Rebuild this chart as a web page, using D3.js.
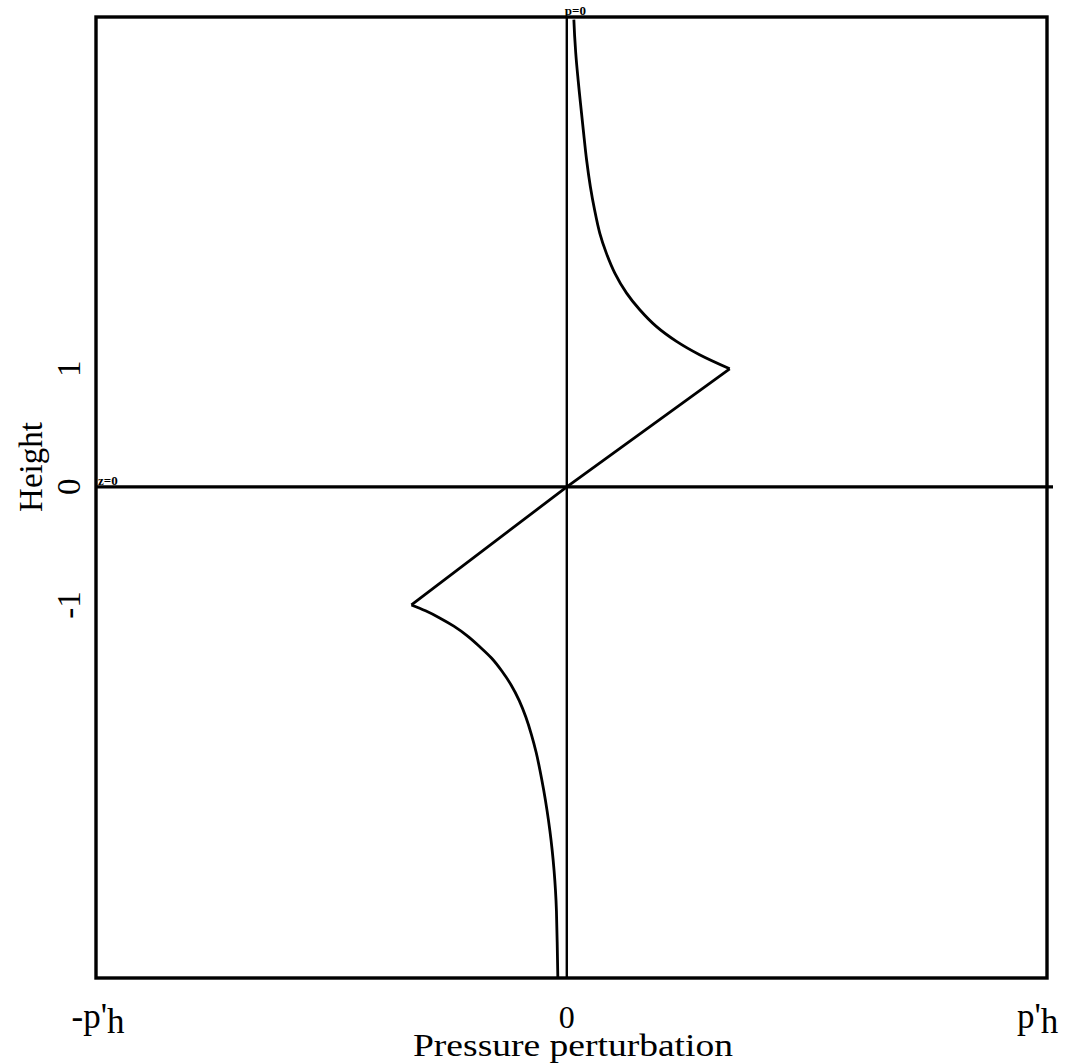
<!DOCTYPE html>
<html>
<head>
<meta charset="utf-8">
<script src="https://cdn.jsdelivr.net/npm/d3@7/dist/d3.min.js"></script>
<style>
  html, body { margin: 0; padding: 0; background: #fff; }
  svg { display: block; }
  text { font-family: "Liberation Serif", "Times New Roman", serif; fill: #000; }
</style>
</head>
<body>
<svg id="chart" width="1071" height="1063"></svg>
<script>
// Vertical profile of the pressure perturbation p' (in units of p'h) versus height z.
// Upper branch (z >= 1), linear core (-1 <= z <= 1), lower branch (z <= -1).
const upperHeight   = [1.000, 1.119, 1.232, 1.359, 1.500, 1.641, 1.811, 1.980, 2.150, 2.347,
                       2.545, 2.771, 3.025, 3.252, 3.449, 3.675, 3.958];
const upperPressure = [0.346, 0.282, 0.233, 0.190, 0.155, 0.127, 0.102, 0.084, 0.070, 0.059,
                       0.050, 0.042, 0.035, 0.029, 0.024, 0.019, 0.015];

const coreHeight    = [1.00, 0.00, -1.00];
const corePressure  = [0.346, 0.00, -0.330];

const lowerHeight   = [-1.00, -1.05, -1.11, -1.18, -1.26, -1.35, -1.45, -1.56, -1.68, -1.81,
                       -1.95, -2.10, -2.25, -2.40, -2.57, -2.74, -2.91, -3.08, -3.25, -3.42,
                       -3.59, -4.16];
const lowerPressure = [-0.330, -0.300, -0.270, -0.240, -0.212, -0.186, -0.160, -0.138, -0.118, -0.101,
                       -0.087, -0.075, -0.065, -0.057, -0.049, -0.042, -0.036, -0.031, -0.027, -0.024,
                       -0.022, -0.019];

const xTickValues = [-1, 0, 1];
const xTickLabels = ["-p'|h", "0", "p'|h"];
const yTickValues = [1, 0, -1];
const yTickLabels = ["1", "0", "-1"];

const xDomain = [-1, 1.02];
const yDomain = [-4.16, 3.98];

const svg = d3.select("#chart");
const x = d3.scaleLinear().domain(xDomain).range([96, 1047]);
const y = d3.scaleLinear().domain(yDomain).range([978, 17]);

// frame
svg.append("rect")
  .attr("x", x(xDomain[0])).attr("y", y(yDomain[1]))
  .attr("width", x(xDomain[1]) - x(xDomain[0]))
  .attr("height", y(yDomain[0]) - y(yDomain[1]))
  .attr("fill", "none").attr("stroke", "#000").attr("stroke-width", 3.4);

// reference lines p = 0 and z = 0
svg.append("line")
  .attr("x1", x(0)).attr("x2", x(0))
  .attr("y1", y(yDomain[1])).attr("y2", y(yDomain[0]))
  .attr("stroke", "#000").attr("stroke-width", 2.4);
svg.append("line")
  .attr("x1", x(xDomain[0])).attr("x2", x(xDomain[1]) + 6)
  .attr("y1", y(0)).attr("y2", y(0))
  .attr("stroke", "#000").attr("stroke-width", 3.4);

// small labels on the reference lines
svg.append("text").attr("x", x(0) - 2).attr("y", y(yDomain[1]) - 2)
  .attr("font-size", 13).attr("font-weight", "bold").text("p=0");
svg.append("text").attr("x", x(xDomain[0]) + 2).attr("y", y(0) - 2)
  .attr("font-size", 13).attr("font-weight", "bold").text("z=0");

// profile
const smooth = d3.line()
  .x(d => x(d[0])).y(d => y(d[1]))
  .curve(d3.curveCatmullRom.alpha(0.5));
const straight = d3.line().x(d => x(d[0])).y(d => y(d[1]));

const branches = [
  { p: upperPressure, z: upperHeight, gen: smooth },
  { p: corePressure,  z: coreHeight,  gen: straight },
  { p: lowerPressure, z: lowerHeight, gen: smooth }
];
branches.forEach(b => {
  svg.append("path")
    .datum(b.p.map((v, i) => [v, b.z[i]]))
    .attr("d", b.gen)
    .attr("fill", "none").attr("stroke", "#000")
    .attr("stroke-width", 2.8).attr("stroke-linejoin", "miter");
});

// x tick labels
const xt = svg.append("g");
xTickValues.forEach((v, i) => {
  const parts = xTickLabels[i].split("|");
  const t = xt.append("text")
    .attr("x", x(v) + (i === 0 ? 2 : 0))
    .attr("y", 1028)
    .attr("text-anchor", "middle")
    .attr("font-size", i === 1 ? 32 : 35);
  t.append("tspan").text(parts[0]);
  if (parts[1]) t.append("tspan").attr("dy", 5).text(parts[1]);
});

svg.append("text")
  .attr("x", 573).attr("y", 1056)
  .attr("text-anchor", "middle").attr("font-size", 31)
  .attr("textLength", 320).attr("lengthAdjust", "spacingAndGlyphs")
  .text("Pressure perturbation");

// y tick labels (rotated)
yTickValues.forEach((v, i) => {
  svg.append("text")
    .attr("transform", `translate(80,${y(v)}) rotate(-90)`)
    .attr("text-anchor", "middle").attr("font-size", 33)
    .text(yTickLabels[i]);
});

svg.append("text")
  .attr("transform", `translate(42,467) rotate(-90)`)
  .attr("text-anchor", "middle").attr("font-size", 33)
  .text("Height");
</script>
</body>
</html>
